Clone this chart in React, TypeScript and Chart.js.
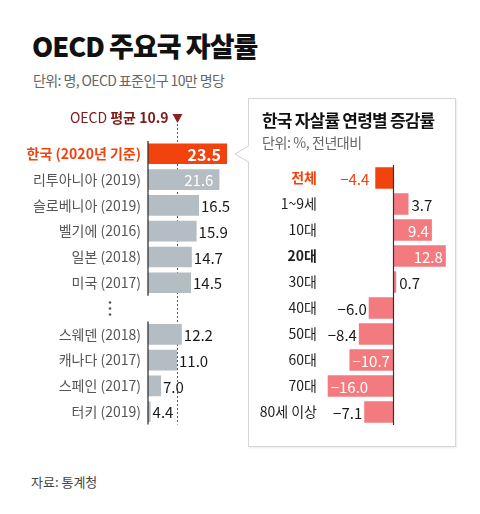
import React, { useEffect, useRef } from "react";
import { Chart, registerables } from "chart.js";

Chart.register(...registerables);

const FONT = '"Noto Sans CJK KR", "Noto Sans", sans-serif';

// ---- data: left chart (OECD suicide rates per 100k) ----
const countryLabels = [
  "한국 (2020년 기준)",
  "리투아니아 (2019)",
  "슬로베니아 (2019)",
  "벨기에 (2016)",
  "일본 (2018)",
  "미국 (2017)",
  "",
  "스웨덴 (2018)",
  "캐나다 (2017)",
  "스페인 (2017)",
  "터키 (2019)",
];
const countryRates: (number | null)[] = [23.5, 21.6, 16.5, 15.9, 14.7, 14.5, null, 12.2, 11.0, 7.0, 4.4];
const oecdAverage = 10.9;

// ---- data: right chart (Korea, change by age group, %) ----
const ageLabels = ["전체", "1~9세", "10대", "20대", "30대", "40대", "50대", "60대", "70대", "80세 이상"];
const ageChanges = [-4.4, 3.7, 9.4, 12.8, 0.7, -6.0, -8.4, -10.7, -16.0, -7.1];

const ORANGE = "#F2430E";
const GRAY = "#B4BCC4";
const PINK = "#F37A7F";
const DARKRED = "#7E1C1C";

const fmt = (v: number) => (v < 0 ? "−" + Math.abs(v).toFixed(1) : v.toFixed(1));

const leftPlugin = {
  id: "leftDeco",
  beforeDatasetsDraw(chart: any) {
    const { ctx, chartArea, scales } = chart;
    const lx = Math.round(scales.x.getPixelForValue(oecdAverage)) + 0.5;
    ctx.save();
    ctx.strokeStyle = "#9A3A3A";
    ctx.lineWidth = 1;
    ctx.setLineDash([2, 2]);
    ctx.beginPath();
    ctx.moveTo(lx, 24);
    ctx.lineTo(lx, chartArea.bottom);
    ctx.stroke();
    ctx.setLineDash([]);
    ctx.fillStyle = "#8E1F1F";
    ctx.beginPath();
    ctx.moveTo(lx - 5, 14);
    ctx.lineTo(lx + 5, 14);
    ctx.lineTo(lx, 23);
    ctx.closePath();
    ctx.fill();
    ctx.textBaseline = "middle";
    ctx.textAlign = "right";
    ctx.fillStyle = DARKRED;
    const boldPart = "평균 " + oecdAverage.toFixed(1);
    ctx.font = `bold 14px ${FONT}`;
    const bw = ctx.measureText(boldPart).width;
    ctx.fillText(boldPart, lx - 9, 18);
    ctx.font = `14px ${FONT}`;
    ctx.fillText("OECD ", lx - 9 - bw, 18);
    ctx.restore();
  },
  afterDatasetsDraw(chart: any) {
    const { ctx, chartArea, scales } = chart;
    const meta = chart.getDatasetMeta(0);
    const step = (chartArea.bottom - chartArea.top) / countryLabels.length;
    ctx.save();
    ctx.strokeStyle = "#333";
    ctx.lineWidth = 1.3;
    countryRates.forEach((v, i) => {
      const cy = scales.y.getPixelForValue(i);
      if (v == null) {
        ctx.fillStyle = "#555";
        [-6, 0, 6].forEach((d) => {
          ctx.beginPath();
          ctx.arc(110, cy + d, 1.3, 0, Math.PI * 2);
          ctx.fill();
        });
        return;
      }
      ctx.beginPath();
      ctx.moveTo(chartArea.left, cy - step / 2);
      ctx.lineTo(chartArea.left, cy + step / 2);
      ctx.stroke();
    });
    ctx.textBaseline = "middle";
    countryRates.forEach((v, i) => {
      if (v == null) return;
      const el = meta.data[i];
      if (v >= 20) {
        ctx.font = `${i === 0 ? "bold 16px" : "15px"} ${FONT}`;
        ctx.fillStyle = "#fff";
        ctx.textAlign = "right";
        ctx.fillText(v.toFixed(1), el.x - 6, el.y + 1);
      } else {
        ctx.font = `15px ${FONT}`;
        ctx.fillStyle = "#1a1a1a";
        ctx.textAlign = "left";
        ctx.fillText(v.toFixed(1), el.x + 2, el.y + 1);
      }
    });
    ctx.restore();
  },
};

const rightPlugin = {
  id: "rightDeco",
  afterDatasetsDraw(chart: any) {
    const { ctx, chartArea, scales } = chart;
    const meta = chart.getDatasetMeta(0);
    const zx = Math.round(scales.x.getPixelForValue(0)) + 0.5;
    ctx.save();
    ctx.strokeStyle = "#333";
    ctx.lineWidth = 1.2;
    ctx.beginPath();
    ctx.moveTo(zx, chartArea.top);
    ctx.lineTo(zx, chartArea.bottom);
    ctx.stroke();
    ctx.textBaseline = "middle";
    ctx.font = `15px ${FONT}`;
    ageChanges.forEach((v, i) => {
      const el = meta.data[i];
      const inside = Math.abs(v) >= 9;
      const txt = fmt(v);
      if (inside) {
        ctx.fillStyle = "#fff";
        if (v > 0) {
          ctx.textAlign = "right";
          ctx.fillText(txt, el.x - 3, el.y + 1);
        } else {
          ctx.textAlign = "left";
          ctx.fillText(txt, el.x + 3, el.y + 1);
        }
      } else {
        ctx.fillStyle = i === 0 ? ORANGE : "#1a1a1a";
        if (v > 0) {
          ctx.textAlign = "left";
          ctx.fillText(txt, el.x + 3, el.y + 1);
        } else {
          ctx.textAlign = "right";
          ctx.fillText(txt, el.x - (i === 0 ? 6 : 2), el.y + 1);
        }
      }
    });
    ctx.restore();
  },
};

export default function App() {
  const leftRef = useRef<HTMLCanvasElement>(null);
  const rightRef = useRef<HTMLCanvasElement>(null);

  useEffect(() => {
    const left = new Chart(leftRef.current as HTMLCanvasElement, {
      type: "bar",
      data: {
        labels: countryLabels,
        datasets: [
          {
            data: countryRates,
            backgroundColor: countryRates.map((_, i) => (i === 0 ? ORANGE : GRAY)),
            barPercentage: 0.8,
            categoryPercentage: 1,
          },
        ],
      },
      options: {
        indexAxis: "y",
        animation: false,
        responsive: false,
        layout: { padding: { top: 40.9, bottom: 10.9, right: 2, left: 0 } },
        plugins: { legend: { display: false }, tooltip: { enabled: false } },
        scales: {
          x: { display: false, min: 3.75, max: 28.75 },
          y: {
            afterFit: (s: any) => {
              s.width = 148;
            },
            grid: { display: false, drawTicks: false },
            border: { display: false },
            ticks: {
              autoSkip: false,
              padding: 7,
              color: (c: any) => (c.index === 0 ? ORANGE : "#555"),
              font: (c: any) => ({ family: FONT, size: 14, weight: c.index === 0 ? "bold" : "normal" }),
            },
          },
        },
      },
      plugins: [leftPlugin],
    } as any);

    const right = new Chart(rightRef.current as HTMLCanvasElement, {
      type: "bar",
      data: {
        labels: ageLabels,
        datasets: [
          {
            data: ageChanges,
            backgroundColor: ageChanges.map((_, i) => (i === 0 ? ORANGE : PINK)),
            barPercentage: 0.82,
            categoryPercentage: 1,
          },
        ],
      },
      options: {
        indexAxis: "y",
        animation: false,
        responsive: false,
        layout: { padding: { top: 15, bottom: 13, right: 7.3, left: 0 } },
        plugins: { legend: { display: false }, tooltip: { enabled: false } },
        scales: {
          x: { display: false, min: -17, max: 13.5 },
          y: {
            afterFit: (s: any) => {
              s.width = 83.6;
            },
            grid: { display: false, drawTicks: false },
            border: { display: false },
            ticks: {
              autoSkip: false,
              padding: 6.6,
              color: (c: any) => (c.index === 0 ? ORANGE : "#1e1e1e"),
              font: (c: any) => ({
                family: FONT,
                size: 14,
                weight: c.index === 0 || c.index === 3 ? "bold" : "normal",
              }),
            },
          },
        },
      },
      plugins: [rightPlugin],
    } as any);

    return () => {
      left.destroy();
      right.destroy();
    };
  }, []);

  return (
    <div
      style={{
        position: "absolute",
        left: 0,
        top: 0,
        width: 480,
        height: 514,
        background: "#fff",
        overflow: "hidden",
        fontFamily: FONT,
      }}
    >
      <div
        style={{
          position: "absolute",
          left: 32,
          top: 28,
          fontSize: 27,
          fontWeight: 900,
          letterSpacing: -1,
          lineHeight: "36px",
          color: "#111",
          whiteSpace: "nowrap",
        }}
      >
        OECD 주요국 자살률
      </div>
      <div
        style={{
          position: "absolute",
          left: 33,
          top: 70,
          fontSize: 14,
          lineHeight: "20px",
          color: "#666",
          letterSpacing: -0.6,
          whiteSpace: "nowrap",
        }}
      >
        단위: 명, OECD 표준인구 10만 명당
      </div>

      <canvas
        ref={leftRef}
        width={250}
        height={340}
        style={{ position: "absolute", left: 0, top: 100, width: 250, height: 340 }}
      />

      <div
        style={{
          position: "absolute",
          left: 248,
          top: 98,
          width: 206,
          height: 347,
          border: "1px solid #d6d6d6",
          background: "#fff",
          boxShadow: "1px 1px 2px rgba(0,0,0,0.08)",
        }}
      />
      <svg width={20} height={30} style={{ position: "absolute", left: 230, top: 140 }}>
        <polygon points="5,14 19.5,5.5 19.5,22.5" fill="#fff" />
        <polyline points="18.5,6 5,14 18.5,22" fill="none" stroke="#cfcfcf" strokeWidth={1} />
      </svg>
      <div
        style={{
          position: "absolute",
          left: 262,
          top: 108,
          fontSize: 17,
          fontWeight: 700,
          lineHeight: "24px",
          letterSpacing: -0.8,
          color: "#111",
          whiteSpace: "nowrap",
        }}
      >
        한국 자살률 연령별 증감률
      </div>
      <div
        style={{
          position: "absolute",
          left: 262,
          top: 132,
          fontSize: 14,
          lineHeight: "20px",
          letterSpacing: -0.4,
          color: "#666",
          whiteSpace: "nowrap",
        }}
      >
        단위: %, 전년대비
      </div>
      <canvas
        ref={rightRef}
        width={216}
        height={290}
        style={{ position: "absolute", left: 240, top: 150, width: 216, height: 290 }}
      />

      <div
        style={{
          position: "absolute",
          left: 31,
          top: 472,
          fontSize: 13,
          lineHeight: "20px",
          color: "#444",
          whiteSpace: "nowrap",
        }}
      >
        자료: 통계청
      </div>
    </div>
  );
}
